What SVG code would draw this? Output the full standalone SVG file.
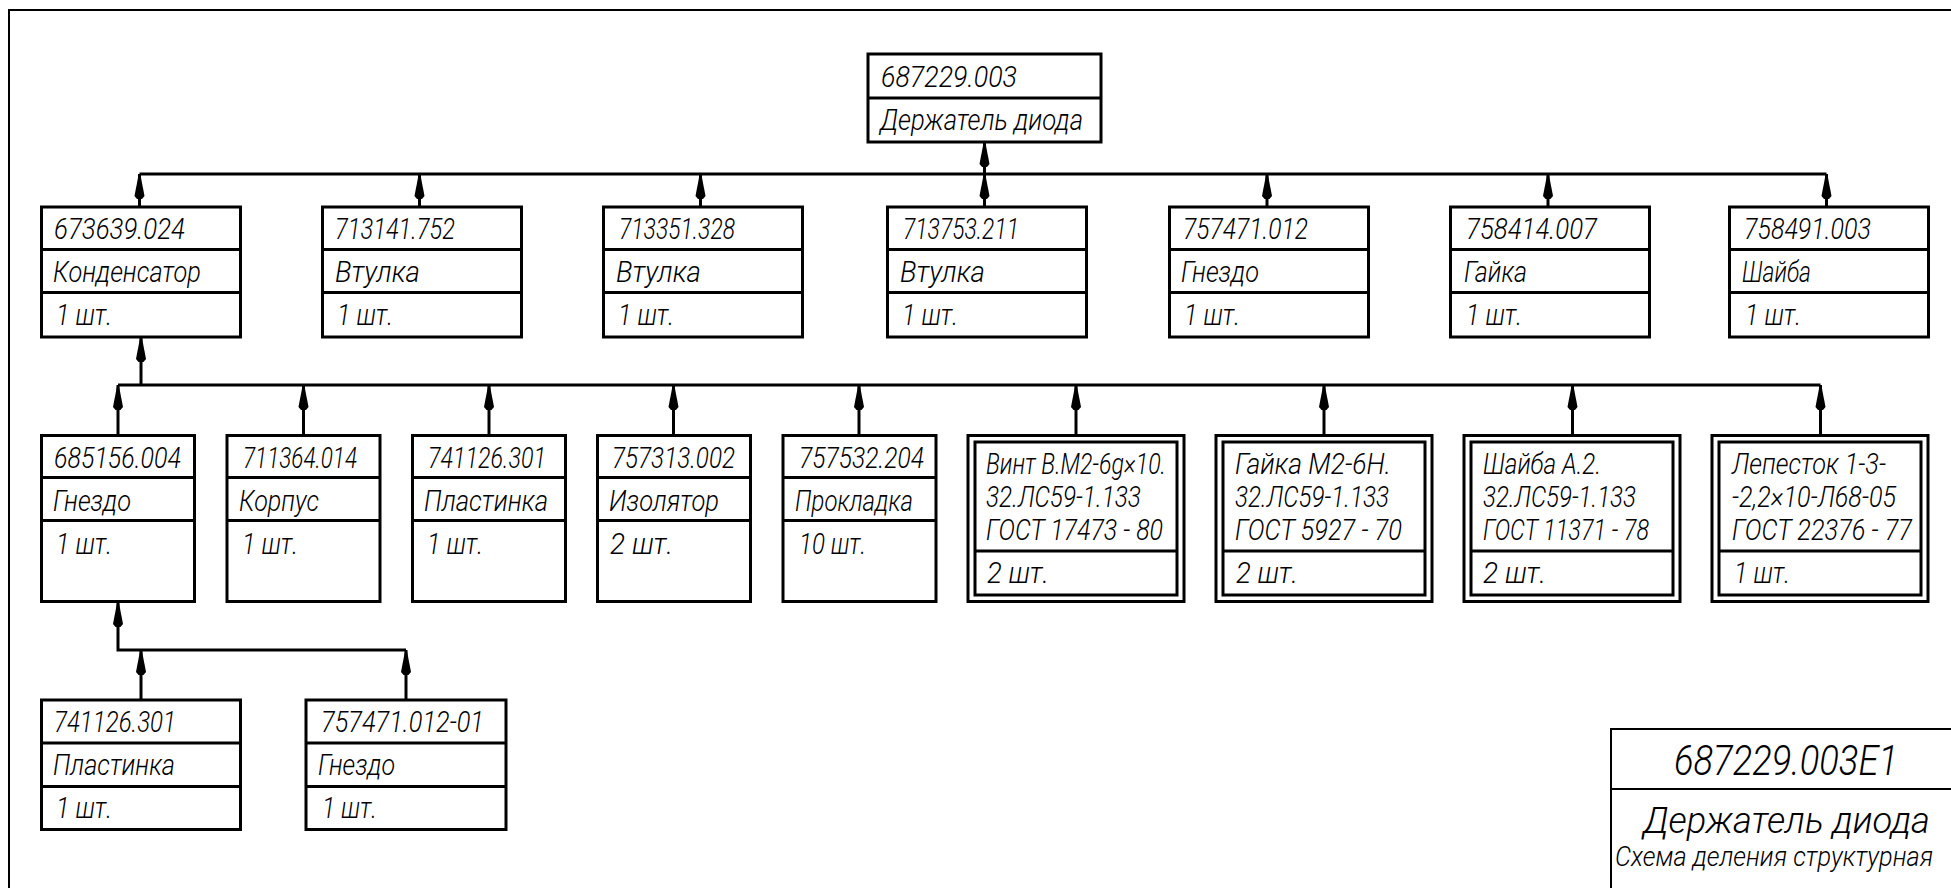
<svg xmlns="http://www.w3.org/2000/svg" width="1951" height="888" viewBox="0 0 1951 888">
<defs>
<style>
.b{fill:none;stroke:#000;stroke-width:3}
.c{fill:none;stroke:#000;stroke-width:3;marker-start:url(#ah)}
.l{fill:none;stroke:#000;stroke-width:3}
.f{fill:none;stroke:#000;stroke-width:2}
text{font-family:Roboto,"Liberation Sans",sans-serif;font-style:italic;font-weight:300;font-size:30px;fill:#000}
</style>
<marker id="ah" markerUnits="userSpaceOnUse" markerWidth="30" markerHeight="12" refX="25" refY="5" orient="auto-start-reverse" overflow="visible">
<path d="M0,2.5 L3,0 L25,4.2 L25,5.8 L3,10 L0,7.5 Z" fill="#000"/>
</marker>
</defs>
<rect width="1951" height="888" fill="#fff"/>
<path class="f" d="M9,888 V10 H1951"/>

<g id="connectors">
<path class="l" d="M139.5,174 H1826.5"/>
<path class="c" d="M984.5,142 V174"/>
<path class="c" d="M139.5,174 V207"/>
<path class="c" d="M419.5,174 V207"/>
<path class="c" d="M700.5,174 V207"/>
<path class="c" d="M984.5,174 V207"/>
<path class="c" d="M1267,174 V207"/>
<path class="c" d="M1548,174 V207"/>
<path class="c" d="M1826.5,174 V207"/>
<path class="c" d="M141,337 V385"/>
<path class="l" d="M118,385 H1820.5"/>
<path class="c" d="M118,385 V435"/>
<path class="c" d="M303.5,385 V435"/>
<path class="c" d="M489,385 V435"/>
<path class="c" d="M673.5,385 V435"/>
<path class="c" d="M859,385 V435"/>
<path class="c" d="M1076,385 V435"/>
<path class="c" d="M1324,385 V435"/>
<path class="c" d="M1572.5,385 V435"/>
<path class="c" d="M1820.5,385 V435"/>
<path class="c" d="M118,602 V650 H406"/>
<path class="c" d="M141,650 V700"/>
<path class="c" d="M406,650 V700"/>
</g>

<g id="root">
<rect class="b" x="868" y="54" width="233" height="88"/>
<path class="b" d="M868,98 H1101"/>
<text x="881" y="87" textLength="136" lengthAdjust="spacingAndGlyphs">687229.003</text>
<text x="880" y="130" textLength="203" lengthAdjust="spacingAndGlyphs">Держатель диода</text>
</g>

<g id="n1">
<rect class="b" x="41.5" y="207" width="199" height="130"/>
<path class="b" d="M41.5,249.5 H240.5 M41.5,292.5 H240.5"/>
<text x="54" y="239" textLength="131" lengthAdjust="spacingAndGlyphs">673639.024</text>
<text x="53" y="282" textLength="148" lengthAdjust="spacingAndGlyphs">Конденсатор</text>
<text x="56" y="325" textLength="56" lengthAdjust="spacingAndGlyphs">1 шт.</text>
</g>
<g id="n2">
<rect class="b" x="322.5" y="207" width="199" height="130"/>
<path class="b" d="M322.5,249.5 H521.5 M322.5,292.5 H521.5"/>
<text x="335" y="239" textLength="120" lengthAdjust="spacingAndGlyphs">713141.752</text>
<text x="335" y="282" textLength="85" lengthAdjust="spacingAndGlyphs">Втулка</text>
<text x="337" y="325" textLength="56" lengthAdjust="spacingAndGlyphs">1 шт.</text>
</g>
<g id="n3">
<rect class="b" x="603.5" y="207" width="199" height="130"/>
<path class="b" d="M603.5,249.5 H802.5 M603.5,292.5 H802.5"/>
<text x="619" y="239" textLength="116" lengthAdjust="spacingAndGlyphs">713351.328</text>
<text x="616" y="282" textLength="85" lengthAdjust="spacingAndGlyphs">Втулка</text>
<text x="618" y="325" textLength="56" lengthAdjust="spacingAndGlyphs">1 шт.</text>
</g>
<g id="n4">
<rect class="b" x="887.5" y="207" width="199" height="130"/>
<path class="b" d="M887.5,249.5 H1086.5 M887.5,292.5 H1086.5"/>
<text x="903" y="239" textLength="116" lengthAdjust="spacingAndGlyphs">713753.211</text>
<text x="900" y="282" textLength="85" lengthAdjust="spacingAndGlyphs">Втулка</text>
<text x="902" y="325" textLength="56" lengthAdjust="spacingAndGlyphs">1 шт.</text>
</g>
<g id="n5">
<rect class="b" x="1169.5" y="207" width="199" height="130"/>
<path class="b" d="M1169.5,249.5 H1368.5 M1169.5,292.5 H1368.5"/>
<text x="1183" y="239" textLength="125" lengthAdjust="spacingAndGlyphs">757471.012</text>
<text x="1181" y="282" textLength="78" lengthAdjust="spacingAndGlyphs">Гнездо</text>
<text x="1184" y="325" textLength="56" lengthAdjust="spacingAndGlyphs">1 шт.</text>
</g>
<g id="n6">
<rect class="b" x="1450.5" y="207" width="199" height="130"/>
<path class="b" d="M1450.5,249.5 H1649.5 M1450.5,292.5 H1649.5"/>
<text x="1466" y="239" textLength="131" lengthAdjust="spacingAndGlyphs">758414.007</text>
<text x="1464" y="282" textLength="63" lengthAdjust="spacingAndGlyphs">Гайка</text>
<text x="1466" y="325" textLength="56" lengthAdjust="spacingAndGlyphs">1 шт.</text>
</g>
<g id="n7">
<rect class="b" x="1729.5" y="207" width="199" height="130"/>
<path class="b" d="M1729.5,249.5 H1928.5 M1729.5,292.5 H1928.5"/>
<text x="1744" y="239" textLength="127" lengthAdjust="spacingAndGlyphs">758491.003</text>
<text x="1742" y="282" textLength="69" lengthAdjust="spacingAndGlyphs">Шайба</text>
<text x="1745" y="325" textLength="56" lengthAdjust="spacingAndGlyphs">1 шт.</text>
</g>

<g id="a1">
<rect class="b" x="41.5" y="435.5" width="153" height="166"/>
<path class="b" d="M41.5,477.5 H194.5 M41.5,520.5 H194.5"/>
<text x="54" y="467.5" textLength="127" lengthAdjust="spacingAndGlyphs">685156.004</text>
<text x="53" y="510.5" textLength="78" lengthAdjust="spacingAndGlyphs">Гнездо</text>
<text x="56" y="553.5" textLength="56" lengthAdjust="spacingAndGlyphs">1 шт.</text>
</g>
<g id="a2">
<rect class="b" x="227" y="435.5" width="153" height="166"/>
<path class="b" d="M227,477.5 H380 M227,520.5 H380"/>
<text x="243" y="467.5" textLength="114" lengthAdjust="spacingAndGlyphs">711364.014</text>
<text x="239" y="510.5" textLength="80" lengthAdjust="spacingAndGlyphs">Корпус</text>
<text x="242" y="553.5" textLength="56" lengthAdjust="spacingAndGlyphs">1 шт.</text>
</g>
<g id="a3">
<rect class="b" x="412.5" y="435.5" width="153" height="166"/>
<path class="b" d="M412.5,477.5 H565.5 M412.5,520.5 H565.5"/>
<text x="428" y="467.5" textLength="118" lengthAdjust="spacingAndGlyphs">741126.301</text>
<text x="424" y="510.5" textLength="124" lengthAdjust="spacingAndGlyphs">Пластинка</text>
<text x="427" y="553.5" textLength="56" lengthAdjust="spacingAndGlyphs">1 шт.</text>
</g>
<g id="a4">
<rect class="b" x="597.5" y="435.5" width="153" height="166"/>
<path class="b" d="M597.5,477.5 H750.5 M597.5,520.5 H750.5"/>
<text x="612" y="467.5" textLength="123" lengthAdjust="spacingAndGlyphs">757313.002</text>
<text x="609" y="510.5" textLength="110" lengthAdjust="spacingAndGlyphs">Изолятор</text>
<text x="610" y="553.5" textLength="63" lengthAdjust="spacingAndGlyphs">2 шт.</text>
</g>
<g id="a5">
<rect class="b" x="783" y="435.5" width="153" height="166"/>
<path class="b" d="M783,477.5 H936 M783,520.5 H936"/>
<text x="799" y="467.5" textLength="125" lengthAdjust="spacingAndGlyphs">757532.204</text>
<text x="795" y="510.5" textLength="118" lengthAdjust="spacingAndGlyphs">Прокладка</text>
<text x="799" y="553.5" textLength="67" lengthAdjust="spacingAndGlyphs">10 шт.</text>
</g>

<g id="s1">
<rect class="b" x="968" y="435.5" width="216" height="166"/>
<rect class="b" x="975" y="442" width="202" height="153"/>
<path class="b" d="M975,551 H1177"/>
<text x="986" y="474" textLength="180" lengthAdjust="spacingAndGlyphs">Винт В.М2-6g×10.</text>
<text x="986" y="507" textLength="155" lengthAdjust="spacingAndGlyphs">32.ЛС59-1.133</text>
<text x="986" y="540" textLength="177" lengthAdjust="spacingAndGlyphs">ГОСТ 17473 - 80</text>
<text x="987" y="583" textLength="62" lengthAdjust="spacingAndGlyphs">2 шт.</text>
</g>
<g id="s2">
<rect class="b" x="1216" y="435.5" width="216" height="166"/>
<rect class="b" x="1223" y="442" width="202" height="153"/>
<path class="b" d="M1223,551 H1425"/>
<text x="1235" y="474" textLength="156" lengthAdjust="spacingAndGlyphs">Гайка М2-6Н.</text>
<text x="1235" y="507" textLength="154" lengthAdjust="spacingAndGlyphs">32.ЛС59-1.133</text>
<text x="1235" y="540" textLength="167" lengthAdjust="spacingAndGlyphs">ГОСТ 5927 - 70</text>
<text x="1236" y="583" textLength="62" lengthAdjust="spacingAndGlyphs">2 шт.</text>
</g>
<g id="s3">
<rect class="b" x="1464" y="435.5" width="216" height="166"/>
<rect class="b" x="1471" y="442" width="202" height="153"/>
<path class="b" d="M1471,551 H1673"/>
<text x="1483" y="474" textLength="118" lengthAdjust="spacingAndGlyphs">Шайба А.2.</text>
<text x="1483" y="507" textLength="153" lengthAdjust="spacingAndGlyphs">32.ЛС59-1.133</text>
<text x="1483" y="540" textLength="166" lengthAdjust="spacingAndGlyphs">ГОСТ 11371 - 78</text>
<text x="1483" y="583" textLength="63" lengthAdjust="spacingAndGlyphs">2 шт.</text>
</g>
<g id="s4">
<rect class="b" x="1712" y="435.5" width="216" height="166"/>
<rect class="b" x="1719" y="442" width="202" height="153"/>
<path class="b" d="M1719,551 H1921"/>
<text x="1732" y="474" textLength="154" lengthAdjust="spacingAndGlyphs">Лепесток 1-3-</text>
<text x="1732" y="507" textLength="164" lengthAdjust="spacingAndGlyphs">-2,2×10-Л68-05</text>
<text x="1732" y="540" textLength="180" lengthAdjust="spacingAndGlyphs">ГОСТ 22376 - 77</text>
<text x="1734" y="583" textLength="56" lengthAdjust="spacingAndGlyphs">1 шт.</text>
</g>

<g id="p1">
<rect class="b" x="41.5" y="700" width="199" height="129.5"/>
<path class="b" d="M41.5,743 H240.5 M41.5,786.5 H240.5"/>
<text x="54" y="732" textLength="122" lengthAdjust="spacingAndGlyphs">741126.301</text>
<text x="53" y="775" textLength="122" lengthAdjust="spacingAndGlyphs">Пластинка</text>
<text x="56" y="818" textLength="56" lengthAdjust="spacingAndGlyphs">1 шт.</text>
</g>
<g id="p2">
<rect class="b" x="306" y="700" width="200" height="129.5"/>
<path class="b" d="M306,743 H506 M306,786.5 H506"/>
<text x="321" y="732" textLength="163" lengthAdjust="spacingAndGlyphs">757471.012-01</text>
<text x="318" y="775" textLength="77" lengthAdjust="spacingAndGlyphs">Гнездо</text>
<text x="322" y="818" textLength="55" lengthAdjust="spacingAndGlyphs">1 шт.</text>
</g>

<g id="title">
<path class="f" d="M1611,888 V729 H1951 M1611,789 H1951"/>
<text x="1674" y="775" style="font-size:42px" textLength="224" lengthAdjust="spacingAndGlyphs">687229.003Е1</text>
<text x="1643" y="833" style="font-size:37px" textLength="287" lengthAdjust="spacingAndGlyphs">Держатель диода</text>
<text x="1615" y="866" style="font-size:27px" textLength="318" lengthAdjust="spacingAndGlyphs">Схема деления структурная</text>
</g>
</svg>
